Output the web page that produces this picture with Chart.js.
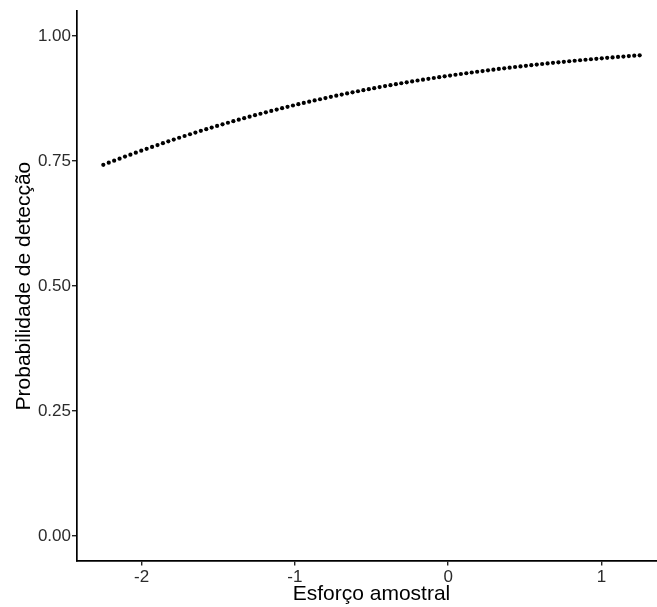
<!DOCTYPE html>
<html>
<head>
<meta charset="utf-8">
<script src="https://cdn.jsdelivr.net/npm/chart.js@4/dist/chart.umd.min.js"></script>
<style>
  html, body { margin: 0; padding: 0; background: #fff; overflow: hidden; }
  #wrap { width: 680px; height: 607px; }
</style>
</head>
<body>
<div id="wrap"><canvas id="c" width="680" height="607"></canvas></div>
<script>
// Esforço amostral (x) values
const esforco = [
  -2.2500, -2.2146, -2.1793, -2.1439, -2.1086, -2.0732, -2.0379, -2.0025, -1.9672, -1.9318,
  -1.8965, -1.8611, -1.8258, -1.7904, -1.7551, -1.7197, -1.6843, -1.6490, -1.6136, -1.5783,
  -1.5429, -1.5076, -1.4722, -1.4369, -1.4015, -1.3662, -1.3308, -1.2955, -1.2601, -1.2247,
  -1.1894, -1.1540, -1.1187, -1.0833, -1.0480, -1.0126, -0.9773, -0.9419, -0.9066, -0.8712,
  -0.8359, -0.8005, -0.7652, -0.7298, -0.6944, -0.6591, -0.6237, -0.5884, -0.5530, -0.5177,
  -0.4823, -0.4470, -0.4116, -0.3763, -0.3409, -0.3056, -0.2702, -0.2348, -0.1995, -0.1641,
  -0.1288, -0.0934, -0.0581, -0.0227, 0.0126, 0.0480, 0.0833, 0.1187, 0.1540, 0.1894,
  0.2247, 0.2601, 0.2955, 0.3308, 0.3662, 0.4015, 0.4369, 0.4722, 0.5076, 0.5429,
  0.5783, 0.6136, 0.6490, 0.6843, 0.7197, 0.7551, 0.7904, 0.8258, 0.8611, 0.8965,
  0.9318, 0.9672, 1.0025, 1.0379, 1.0732, 1.1086, 1.1439, 1.1793, 1.2146, 1.2500
];
// Probabilidade de detecção (y) values
const probabilidade = [
  0.7427, 0.7469, 0.7510, 0.7550, 0.7591, 0.7630, 0.7670, 0.7709, 0.7747, 0.7785,
  0.7822, 0.7860, 0.7896, 0.7932, 0.7968, 0.8003, 0.8038, 0.8072, 0.8106, 0.8139,
  0.8172, 0.8205, 0.8237, 0.8268, 0.8299, 0.8330, 0.8360, 0.8390, 0.8419, 0.8448,
  0.8477, 0.8505, 0.8532, 0.8560, 0.8586, 0.8613, 0.8639, 0.8664, 0.8689, 0.8714,
  0.8738, 0.8762, 0.8786, 0.8809, 0.8832, 0.8854, 0.8876, 0.8898, 0.8919, 0.8940,
  0.8960, 0.8981, 0.9001, 0.9020, 0.9039, 0.9058, 0.9077, 0.9095, 0.9113, 0.9130,
  0.9147, 0.9164, 0.9181, 0.9197, 0.9213, 0.9229, 0.9244, 0.9259, 0.9274, 0.9289,
  0.9303, 0.9317, 0.9331, 0.9345, 0.9358, 0.9371, 0.9384, 0.9396, 0.9408, 0.9421,
  0.9432, 0.9444, 0.9455, 0.9467, 0.9477, 0.9488, 0.9499, 0.9509, 0.9519, 0.9529,
  0.9539, 0.9548, 0.9558, 0.9567, 0.9576, 0.9585, 0.9593, 0.9602, 0.9610, 0.9618
];
const xTicks = [-2, -1, 0, 1];
const yTicks = [0, 0.25, 0.5, 0.75, 1];
const xTitle = 'Esforço amostral';
const yTitle = 'Probabilidade de detecção';

const points = esforco.map((x, i) => ({ x: x, y: probabilidade[i] }));
const FONT = "'Liberation Sans', Arial, sans-serif";

new Chart(document.getElementById('c'), {
  type: 'scatter',
  data: {
    datasets: [{
      data: points,
      pointRadius: 2.1,
      pointHoverRadius: 2.1,
      pointBackgroundColor: '#000',
      pointBorderWidth: 0,
      borderColor: '#000'
    }]
  },
  options: {
    responsive: false,
    animation: false,
    devicePixelRatio: 1,
    layout: { padding: { left: 0, right: 13.5, top: 9.5, bottom: 0 } },
    plugins: { legend: { display: false }, tooltip: { enabled: false } },
    scales: {
      x: {
        type: 'linear',
        min: -2.425,
        max: 1.425,
        afterBuildTicks: s => { s.ticks = xTicks.map(v => ({ value: v })); },
        afterFit: s => { s.height = 46; },
        grid: { display: true, drawOnChartArea: false, drawTicks: true, tickLength: 4.5, color: '#222', lineWidth: 1.4 },
        border: { display: true, color: '#000', width: 1.7 },
        ticks: {
          padding: 1.5,
          color: '#2b2b2b',
          font: { family: FONT, size: 17 },
          maxRotation: 0,
          callback: v => String(v)
        },
        title: {
          display: true,
          text: xTitle,
          color: '#000',
          font: { family: FONT, size: 21 },
          padding: { top: 0, bottom: 0.5 }
        }
      },
      y: {
        type: 'linear',
        min: -0.05,
        max: 1.05,
        afterBuildTicks: s => { s.ticks = yTicks.map(v => ({ value: v })); },
        afterFit: s => { s.width = 76.5; },
        grid: { display: true, drawOnChartArea: false, drawTicks: true, tickLength: 4.5, color: '#222', lineWidth: 1.4 },
        border: { display: true, color: '#000', width: 1.7 },
        ticks: {
          padding: 1,
          color: '#2b2b2b',
          font: { family: FONT, size: 17 },
          callback: v => Number(v).toFixed(2)
        },
        title: {
          display: true,
          text: yTitle,
          color: '#000',
          font: { family: FONT, size: 21 },
          padding: { top: 12, bottom: 12 }
        }
      }
    }
  }
});
</script>
</body>
</html>
